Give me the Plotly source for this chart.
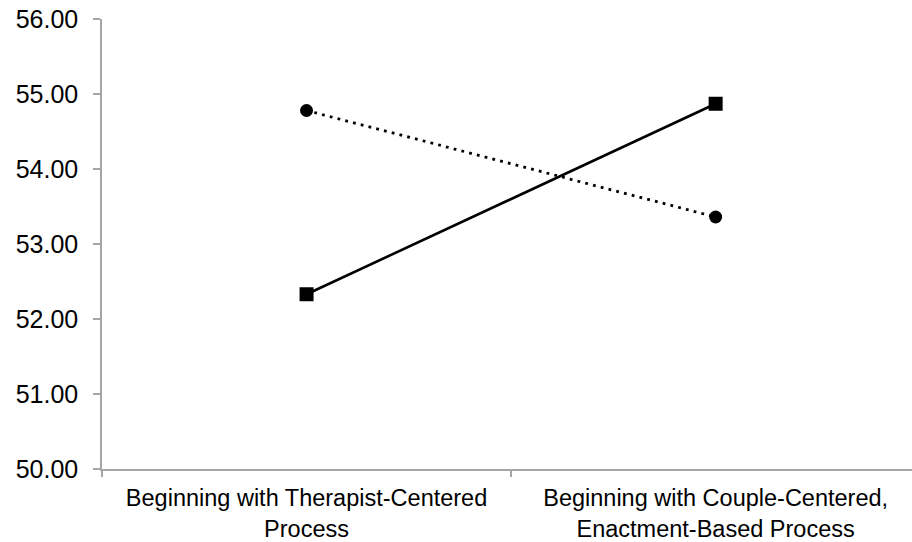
import plotly.graph_objects as go

categories = ["Beginning with Therapist-Centered<br>Process",
              "Beginning with Couple-Centered,<br>Enactment-Based Process"]
circle_values = [54.78, 53.36]
square_values = [52.33, 54.87]
y_ticks = [50, 51, 52, 53, 54, 55, 56]

fig = go.Figure()
fig.add_trace(go.Scatter(
    x=categories, y=circle_values, mode="lines+markers", name="Circle",
    line=dict(color="black", width=2.8, dash="2.8px,5.2px"),
    marker=dict(symbol="circle", size=13, color="black"),
))
fig.add_trace(go.Scatter(
    x=categories, y=square_values, mode="lines+markers", name="Square",
    line=dict(color="black", width=2.6),
    marker=dict(symbol="square", size=14, color="black"),
))

fig.update_layout(
    width=912, height=542,
    margin=dict(l=102, r=0, t=19, b=73, autoexpand=False),
    paper_bgcolor="white", plot_bgcolor="white",
    showlegend=False,
    font=dict(family="Liberation Sans, Arial, sans-serif", color="black"),
)
fig.update_xaxes(
    type="category", range=[-0.5, 1.48], automargin=False,
    showline=True, linecolor="#a6a6a6", linewidth=1.5,
    ticks="outside", tickson="boundaries", ticklen=6, tickcolor="#a6a6a6", tickwidth=1.5,
    showgrid=False, zeroline=False,
    tickfont=dict(size=23.5, color="black"),
    ticklabelstandoff=7,
    ticklabeloverflow="allow",
)
fig.update_yaxes(
    range=[50, 56], tickvals=y_ticks, tickformat=".2f", automargin=False,
    showline=True, linecolor="#a6a6a6", linewidth=1.5,
    ticks="outside", ticklen=7, tickcolor="#a6a6a6", tickwidth=1.5,
    showgrid=False, zeroline=False,
    tickfont=dict(size=25, color="black"),
    ticklabelstandoff=10,
    ticklabeloverflow="allow",
)

fig.write_html("out.html",
               config={"displayModeBar": False},
               post_script="document.body.style.margin='0';document.body.style.overflow='hidden';")
